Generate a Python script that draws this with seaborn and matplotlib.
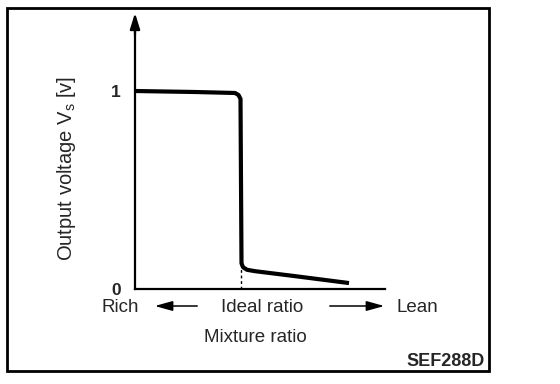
import matplotlib
matplotlib.use("Agg")
import matplotlib.pyplot as plt
import seaborn as sns
import pandas as pd
from matplotlib.patches import Rectangle

# Data (x in relative mixture units, y in volts)
mix_x = [0.0, 0.60, 1.00, 1.035, 1.055, 1.06, 1.06, 1.065, 1.08, 1.12, 1.20, 1.60, 2.14]
volt_y = [1.0, 0.995, 0.99, 0.98, 0.96, 0.92, 0.16, 0.13, 0.11, 0.097, 0.09, 0.065, 0.03]
ideal_x = 1.06
ytick_vals = [0, 1]
ytick_labels = ["0", "1"]

sns.set_theme(style="white")
plt.rcParams['font.family'] = ['Liberation Sans', 'DejaVu Sans']
plt.rcParams['mathtext.fontset'] = 'custom'
plt.rcParams['mathtext.rm'] = 'Liberation Sans'

W, H = 560, 384
fig = plt.figure(figsize=(W / 100, H / 100), dpi=100)
fig.patch.set_facecolor("white")

# axes: left at px 135, right at px 385, bottom at px 289, top at px 13
ax = fig.add_axes([135 / W, (H - 289) / H, (385 - 135) / W, (289 - 13) / H])
ax.set_facecolor("white")
df = pd.DataFrame({"x": mix_x, "y": volt_y})
sns.lineplot(data=df, x="x", y="y", ax=ax, color="black", linewidth=3.0, sort=False,
             solid_joinstyle="round", solid_capstyle="butt")
ax.plot([ideal_x, ideal_x], [0, 0.1], color="black", linewidth=1.0, linestyle=(0, (2, 2)))

ax.set_xlim(0, 2.5)
ax.set_ylim(0, 1.394)
for s in ["top", "right"]:
    ax.spines[s].set_visible(False)
for s in ["left", "bottom"]:
    ax.spines[s].set_color("black")
    ax.spines[s].set_linewidth(1.6)
ax.spines["left"].set_bounds(0, 1.33)
ax.set_xticks([])
ax.set_yticks(ytick_vals)
ax.set_yticklabels(ytick_labels, fontsize=12.5, fontweight="bold")
ax.tick_params(axis="y", length=0, pad=10)
ax.set_xlabel("")
ax.set_ylabel("")

# y-axis arrow head
ax.annotate("", xy=(0, 1.0), xycoords="axes fraction", xytext=(0, 0.92),
            arrowprops=dict(arrowstyle="-|>,head_length=0.8,head_width=0.25", color="black", lw=1.6,
                            mutation_scale=12, shrinkA=0, shrinkB=0))

def fx(px):
    return px / W

def fy(py):
    return (H - py) / H

fs = 13.5
fig.text(fx(67), fy(168), r"Output voltage V$_\mathrm{s}$ [v]", rotation=90, ha="center", va="center", fontsize=14.5)
fig.text(fx(120), fy(307), "Rich", ha="center", va="center", fontsize=fs)
fig.text(fx(262), fy(307), "Ideal ratio", ha="center", va="center", fontsize=fs)
fig.text(fx(417), fy(307), "Lean", ha="center", va="center", fontsize=fs)
fig.text(fx(255), fy(337), "Mixture ratio", ha="center", va="center", fontsize=fs)
fig.text(fx(485), fy(362), "SEF288D", ha="right", va="center", fontsize=13, fontweight="bold")

fig.add_artist(matplotlib.patches.FancyArrowPatch((fx(200), fy(306)), (fx(152), fy(306)),
               transform=fig.transFigure, arrowstyle="-|>,head_length=0.9,head_width=0.25",
               mutation_scale=12, color="black", lw=1.1))
fig.add_artist(matplotlib.patches.FancyArrowPatch((fx(327), fy(306)), (fx(387), fy(306)),
               transform=fig.transFigure, arrowstyle="-|>,head_length=0.9,head_width=0.25",
               mutation_scale=12, color="black", lw=1.1))

fig.add_artist(Rectangle((fx(7), fy(371)), (489 - 7) / W, (371 - 8) / H,
                         transform=fig.transFigure, fill=False, edgecolor="black", linewidth=2))

fig.savefig("out.png", dpi=100, facecolor="white")
